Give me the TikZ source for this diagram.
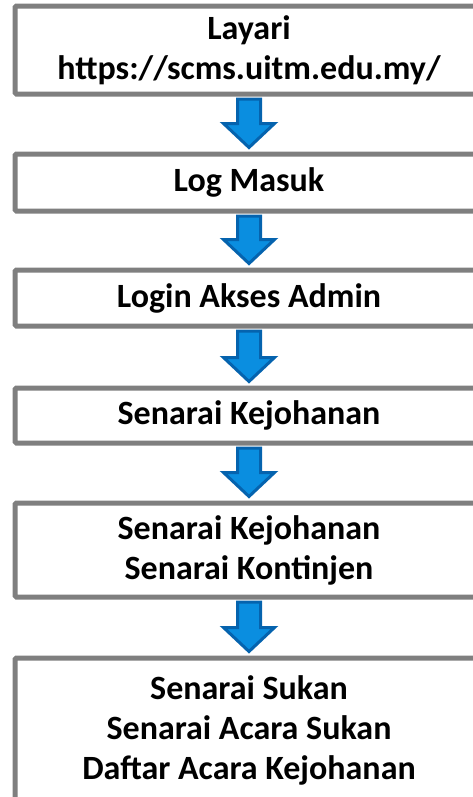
\documentclass[tikz,border=0pt]{standalone}
\usepackage{fontspec}
\setmainfont{Carlito}
\usepackage[HTML]{xcolor}
\usetikzlibrary{positioning, calc}

\definecolor{boxgray}{HTML}{7F7F7F}
\definecolor{arrfill}{HTML}{0A8EE0}
\definecolor{arredge}{HTML}{0563AE}

\begin{document}
\begin{tikzpicture}[x=0.75pt, y=0.75pt,
  box/.style={draw=boxgray, line width=3.75pt, fill=white, rounded corners=1pt, minimum width=351pt, inner sep=0pt, align=center, font=\bfseries\fontsize{25.5}{30}\selectfont},
  blockarr/.style={fill=arrfill, draw=arredge, line width=2.25pt, miter limit=10}]

\useasboundingbox (0,0) rectangle (473,-797);

\node[box, minimum height=66pt] (layari) at (249,-50) {Layari\\https://scms.uitm.edu.my/};
\node[box, minimum height=42.75pt] (log) at (249,-182.5) {Log Masuk};
\node[box, minimum height=42pt] (admin) at (249,-298) {Login Akses Admin};
\node[box, minimum height=41.25pt] (kejo) at (249,-415.5) {Senarai Kejohanan};
\node[box, minimum height=70.5pt] (konti) at (249,-550) {Senarai Kejohanan\\Senarai Kontinjen};
\node[box, minimum height=108pt] (sukan) at (249,-730) {Senarai Sukan\\Senarai Acara Sukan\\Daftar Acara Kejohanan};

% block arrows between the boxes
\draw[blockarr] ($(layari.south)+(-11.5,-2.5)$) -- ($(layari.south)+(11.5,-2.5)$) -- ($(log.north)+(11.5,28)$) -- ($(log.north)+(25.5,28)$) -- ($(log.north)+(0,4)$) -- ($(log.north)+(-25.5,28)$) -- ($(log.north)+(-11.5,28)$) -- cycle;
\draw[blockarr] ($(log.south)+(-11.5,-2.5)$) -- ($(log.south)+(11.5,-2.5)$) -- ($(admin.north)+(11.5,28)$) -- ($(admin.north)+(25.5,28)$) -- ($(admin.north)+(0,4)$) -- ($(admin.north)+(-25.5,28)$) -- ($(admin.north)+(-11.5,28)$) -- cycle;
\draw[blockarr] ($(admin.south)+(-11.5,-2.5)$) -- ($(admin.south)+(11.5,-2.5)$) -- ($(kejo.north)+(11.5,28)$) -- ($(kejo.north)+(25.5,28)$) -- ($(kejo.north)+(0,4)$) -- ($(kejo.north)+(-25.5,28)$) -- ($(kejo.north)+(-11.5,28)$) -- cycle;
\draw[blockarr] ($(kejo.south)+(-11.5,-2.5)$) -- ($(kejo.south)+(11.5,-2.5)$) -- ($(konti.north)+(11.5,28)$) -- ($(konti.north)+(25.5,28)$) -- ($(konti.north)+(0,4)$) -- ($(konti.north)+(-25.5,28)$) -- ($(konti.north)+(-11.5,28)$) -- cycle;
\draw[blockarr] ($(konti.south)+(-11.5,-2.5)$) -- ($(konti.south)+(11.5,-2.5)$) -- ($(sukan.north)+(11.5,28)$) -- ($(sukan.north)+(25.5,28)$) -- ($(sukan.north)+(0,4)$) -- ($(sukan.north)+(-25.5,28)$) -- ($(sukan.north)+(-11.5,28)$) -- cycle;
\end{tikzpicture}
\end{document}
